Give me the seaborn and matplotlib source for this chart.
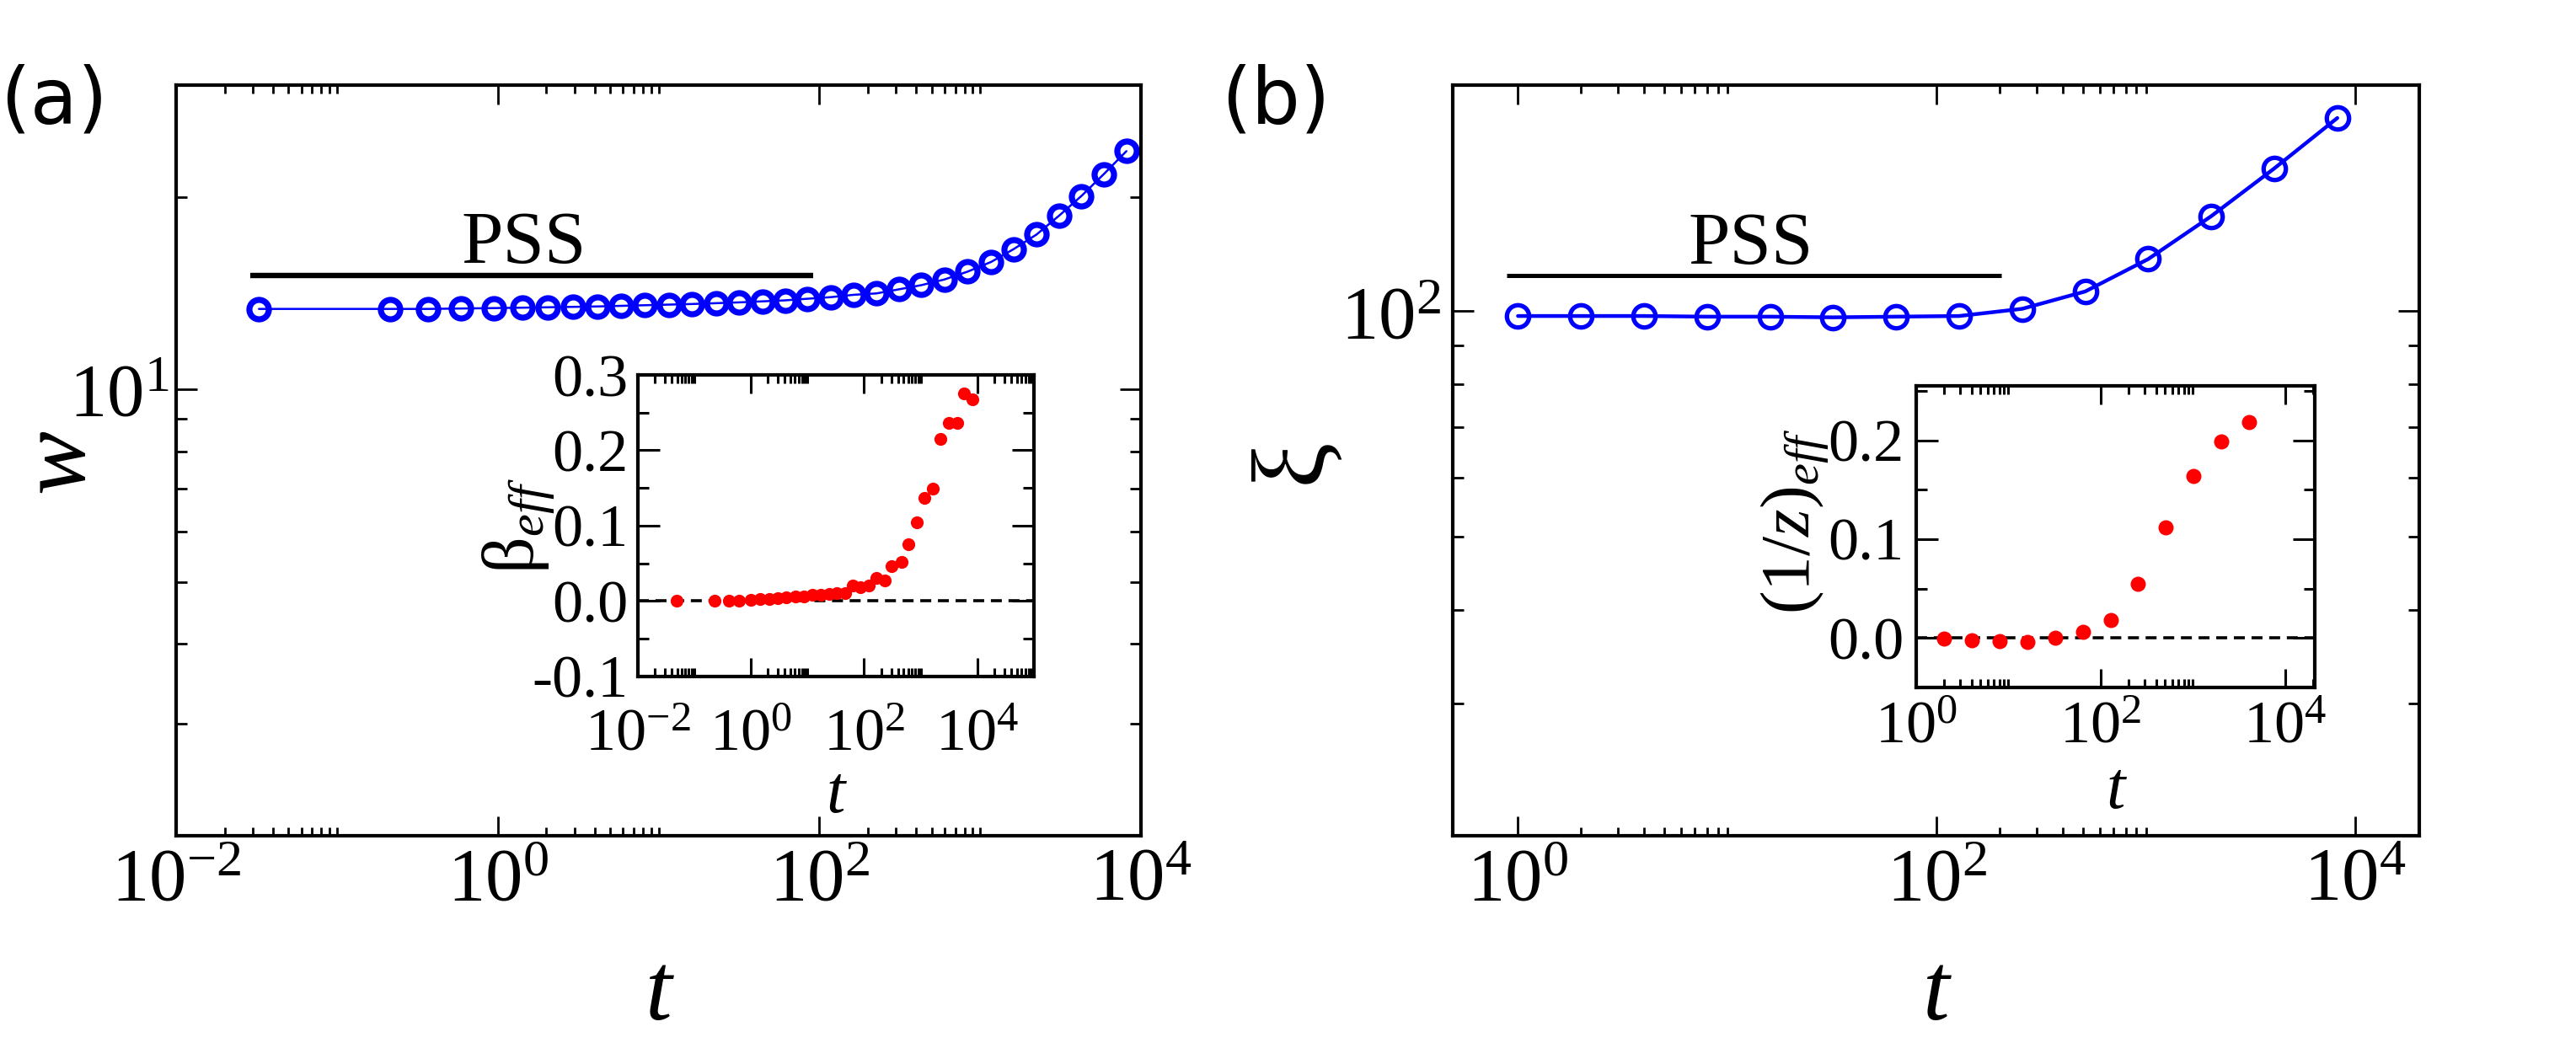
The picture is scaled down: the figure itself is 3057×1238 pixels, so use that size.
import numpy as np
import pandas as pd
import matplotlib
matplotlib.use("Agg")
import matplotlib.pyplot as plt
import seaborn as sns
from matplotlib.ticker import FixedLocator, FixedFormatter, NullFormatter

# ---------------- data ----------------
# panel (a) main: interface width w(t)
t_w = [0.0327, 0.214, 0.368, 0.590, 0.948, 1.42, 2.05, 2.92, 4.16, 5.86, 8.24,
       11.6, 16.2, 22.8, 31.7, 44.2, 61.1, 84.1, 117.5, 164.1, 226.5, 312.6,
       431.5, 599.8, 837.5, 1169.5, 1614.4, 2243.8, 3097.4, 4265.8, 5888.4, 8128.3]
w = [13.38, 13.38, 13.38, 13.40, 13.42, 13.44, 13.46, 13.48, 13.50, 13.53, 13.56,
     13.59, 13.62, 13.66, 13.70, 13.75, 13.80, 13.88, 13.96, 14.08, 14.15, 14.36,
     14.58, 14.88, 15.31, 15.85, 16.6, 17.5, 18.73, 20.11, 21.77, 23.64]

# panel (a) inset: effective growth exponent
t_beta = [0.0492, 0.226, 0.405, 0.617, 0.995, 1.48, 2.11, 3.04, 4.28, 6.15, 8.67,
          12.2, 17.1, 24.2, 33.2, 46.8, 62.1, 87.3, 120.2, 167.1, 230.1, 306.2,
          456.0, 612.4, 853.1, 1161.4, 1633.1, 2243.8, 3090.3, 4446.3, 5902.0, 8317.6]
beta_eff = [0.0, 0.0, 0.0004, 0.0004, 0.001, 0.0026, 0.003, 0.0034, 0.0049, 0.0056,
            0.0064, 0.0079, 0.0086, 0.0094, 0.0105, 0.0109, 0.021, 0.018, 0.020,
            0.030, 0.027, 0.046, 0.052, 0.075, 0.104, 0.137, 0.149, 0.215, 0.236,
            0.236, 0.276, 0.268]

# panel (b) main: correlation length xi(t)
t_xi = [1, 2, 4, 8, 16, 32, 64, 128, 256, 512, 1024, 2048, 4096, 8192]
xi = [98.5, 98.5, 98.5, 98.3, 98.3, 98.1, 98.3, 98.5, 100.7, 106.2, 117.3,
      133.8, 154.9, 180.8]

# panel (b) inset: effective 1/z
t_z = [2, 4, 8, 16, 32, 64, 128, 256, 512, 1024, 2048, 4096]
inv_z_eff = [-0.0003, -0.0023, -0.0029, -0.0039, 0.0003, 0.0062, 0.0179, 0.0551,
             0.1119, 0.1641, 0.1990, 0.2186]

# PSS bars (extent in t, level in y)
pss_a_t = [0.029, 92.0]
pss_a_y = [15.1, 15.1]
pss_b_t = [0.88, 204.0]
pss_b_y = [111.5, 111.5]

df_w = pd.DataFrame({"t": t_w, "w": w})
df_beta = pd.DataFrame({"t": t_beta, "beta": beta_eff})
df_xi = pd.DataFrame({"t": t_xi, "xi": xi})
df_z = pd.DataFrame({"t": t_z, "invz": inv_z_eff})

# ---------------- style ----------------
sns.set_theme(style="ticks")
SERIF = ["Liberation Serif", "DejaVu Serif"]
plt.rcParams["font.family"] = SERIF
plt.rcParams["mathtext.fontset"] = "custom"
plt.rcParams["mathtext.rm"] = "Liberation Serif"
plt.rcParams["mathtext.it"] = "Liberation Serif:italic"
plt.rcParams["mathtext.bf"] = "Liberation Serif:bold"
for k in ["text.color", "axes.labelcolor", "xtick.color", "ytick.color", "axes.edgecolor"]:
    plt.rcParams[k] = "black"

BLUE = "#0000ff"
RED = "#ff0000"

fig = plt.figure(figsize=(15.285, 6.19), dpi=200)


def even_decade_minors(d_lo, d_hi):
    return [k * 10.0 ** d for d in range(d_lo, d_hi + 1, 2) for k in range(2, 11)]


def style(ax, xmaj, xlab, xmin, ymaj, ylab, ymin, lsz, spine_w,
          xmaj_len, xmin_len, ymaj_len, ymin_len, tw, xpad, ypad):
    ax.xaxis.set_major_locator(FixedLocator(xmaj))
    ax.xaxis.set_major_formatter(FixedFormatter(xlab))
    ax.xaxis.set_minor_locator(FixedLocator(xmin))
    ax.xaxis.set_minor_formatter(NullFormatter())
    ax.yaxis.set_major_locator(FixedLocator(ymaj))
    ax.yaxis.set_major_formatter(FixedFormatter(ylab))
    ax.yaxis.set_minor_locator(FixedLocator(ymin))
    ax.yaxis.set_minor_formatter(NullFormatter())
    for s in ax.spines.values():
        s.set_visible(True)
        s.set_linewidth(spine_w)
        s.set_color("black")
    ax.tick_params(which="both", direction="in", top=True, right=True,
                   width=tw, colors="black", labelsize=lsz,
                   labelfontfamily="Liberation Serif")
    ax.xaxis.set_tick_params(which="major", length=xmaj_len, pad=xpad)
    ax.xaxis.set_tick_params(which="minor", length=xmin_len)
    ax.yaxis.set_tick_params(which="major", length=ymaj_len, pad=ypad)
    ax.yaxis.set_tick_params(which="minor", length=ymin_len)
    ax.grid(False)


def baseline_xlabel(ax, text, size, y):
    ax.set_xlabel(text, fontsize=size, fontstyle="italic", family=SERIF)
    ax.xaxis.label.set_va("baseline")
    ax.xaxis.set_label_coords(0.5, y)


# ================= panel (a) =================
axa = fig.add_axes([0.0684, 0.1987, 0.3745, 0.7197])
axa.set_xscale("log")
axa.set_yscale("log")
sns.lineplot(data=df_w, x="t", y="w", ax=axa, color=BLUE, linewidth=0.9,
             marker="o", markersize=8.3, markerfacecolor="none",
             markeredgecolor=BLUE, markeredgewidth=2.6, sort=False,
             estimator=None, legend=False)
axa.plot(pss_a_t, pss_a_y, color="black", lw=2.3, solid_capstyle="butt")
axa.text(0.3605, 0.7637, "PSS", transform=axa.transAxes, ha="center",
         va="baseline", fontsize=32)
axa.set_xlim(1e-2, 1e4)
axa.set_ylim(2, 30)
style(axa, [1e-2, 1, 1e2, 1e4],
      [r"$10^{-2}$", r"$10^{0}$", r"$10^{2}$", r"$10^{4}$"],
      even_decade_minors(-2, 2),
      [10], [r"$10^{1}$"], [2, 3, 4, 5, 6, 7, 8, 9, 20, 30],
      32, 1.5, 8.3, 3.7, 9.0, 4.8, 1.0, 5, 3)
baseline_xlabel(axa, "t", 41, -0.245)
axa.set_ylabel("w", fontsize=41, fontstyle="italic", family=SERIF)
axa.yaxis.set_label_coords(-0.076, 0.5)

# inset (a)
ina = fig.add_axes([0.2475, 0.3516, 0.1539, 0.2889])
ina.set_xscale("log")
ina.axhline(0.0, color="black", lw=1.3, dashes=(3.6, 2.2), zorder=1)
sns.scatterplot(data=df_beta, x="t", y="beta", ax=ina, color=RED, s=30,
                linewidth=0, legend=False, zorder=3)
ina.set_xlim(1e-2, 1e5)
ina.set_ylim(-0.1, 0.3)
style(ina, [1e-2, 1, 1e2, 1e4],
      [r"$10^{-2}$", r"$10^{0}$", r"$10^{2}$", r"$10^{4}$"],
      even_decade_minors(-2, 4),
      [-0.1, 0.0, 0.1, 0.2, 0.3], ["-0.1", "0.0", "0.1", "0.2", "0.3"],
      [-0.05, 0.05, 0.15, 0.25],
      26, 1.5, 7.8, 3.6, 9.2, 4.6, 1.1, 13.5, 4)
baseline_xlabel(ina, "t", 29, -0.45)
ina.set_ylabel(r"β$_{eff}$", fontsize=31)
ina.yaxis.set_label_coords(-0.205, 0.5)

# ================= panel (b) =================
axb = fig.add_axes([0.5641, 0.1987, 0.3751, 0.7197])
axb.set_xscale("log")
axb.set_yscale("log")
sns.lineplot(data=df_xi, x="t", y="xi", ax=axb, color=BLUE, linewidth=1.6,
             marker="o", markersize=9.5, markerfacecolor="none",
             markeredgecolor=BLUE, markeredgewidth=1.9, sort=False,
             estimator=None, legend=False)
axb.plot(pss_b_t, pss_b_y, color="black", lw=1.8, solid_capstyle="butt")
axb.text(0.3082, 0.7626, "PSS", transform=axb.transAxes, ha="center",
         va="baseline", fontsize=32)
axb.set_xlim(0.49, 2.02e4)
axb.set_ylim(20, 200)
style(axb, [1, 1e2, 1e4],
      [r"$10^{0}$", r"$10^{2}$", r"$10^{4}$"],
      even_decade_minors(0, 4),
      [100], [r"$10^{2}$"], [30, 40, 50, 60, 70, 80, 90, 200],
      32, 1.5, 8.3, 3.7, 9.0, 4.8, 1.0, 5, 5)
baseline_xlabel(axb, "t", 41, -0.245)
axb.set_ylabel("ξ", fontsize=44, family=SERIF)
axb.yaxis.set_label_coords(-0.115, 0.5)

# inset (b)
inb = fig.add_axes([0.7438, 0.3409, 0.1548, 0.2891])
inb.set_xscale("log")
inb.axhline(0.0, color="black", lw=1.3, dashes=(3.6, 2.2), zorder=1)
sns.scatterplot(data=df_z, x="t", y="invz", ax=inb, color=RED, s=42,
                linewidth=0, legend=False, zorder=3)
inb.set_xlim(1, 2.1e4)
inb.set_ylim(-0.05, 0.255)
style(inb, [1, 1e2, 1e4],
      [r"$10^{0}$", r"$10^{2}$", r"$10^{4}$"],
      even_decade_minors(0, 4),
      [0.0, 0.1, 0.2], ["0.0", "0.1", "0.2"],
      [-0.05, 0.05, 0.15, 0.25],
      26, 1.5, 7.8, 3.6, 9.2, 4.6, 1.1, 5.5, 5)
baseline_xlabel(inb, "t", 29, -0.401)
inb.set_ylabel(r"$(1/z)_{eff}$", fontsize=30)
inb.yaxis.set_label_coords(-0.215, 0.55)

# panel labels
fig.text(0.0, 0.8813, "(a)", fontsize=33, family="DejaVu Sans", ha="left", va="baseline")
fig.text(0.474, 0.8813, "(b)", fontsize=33, family="DejaVu Sans", ha="left", va="baseline")

fig.savefig("out.png", dpi=200)
